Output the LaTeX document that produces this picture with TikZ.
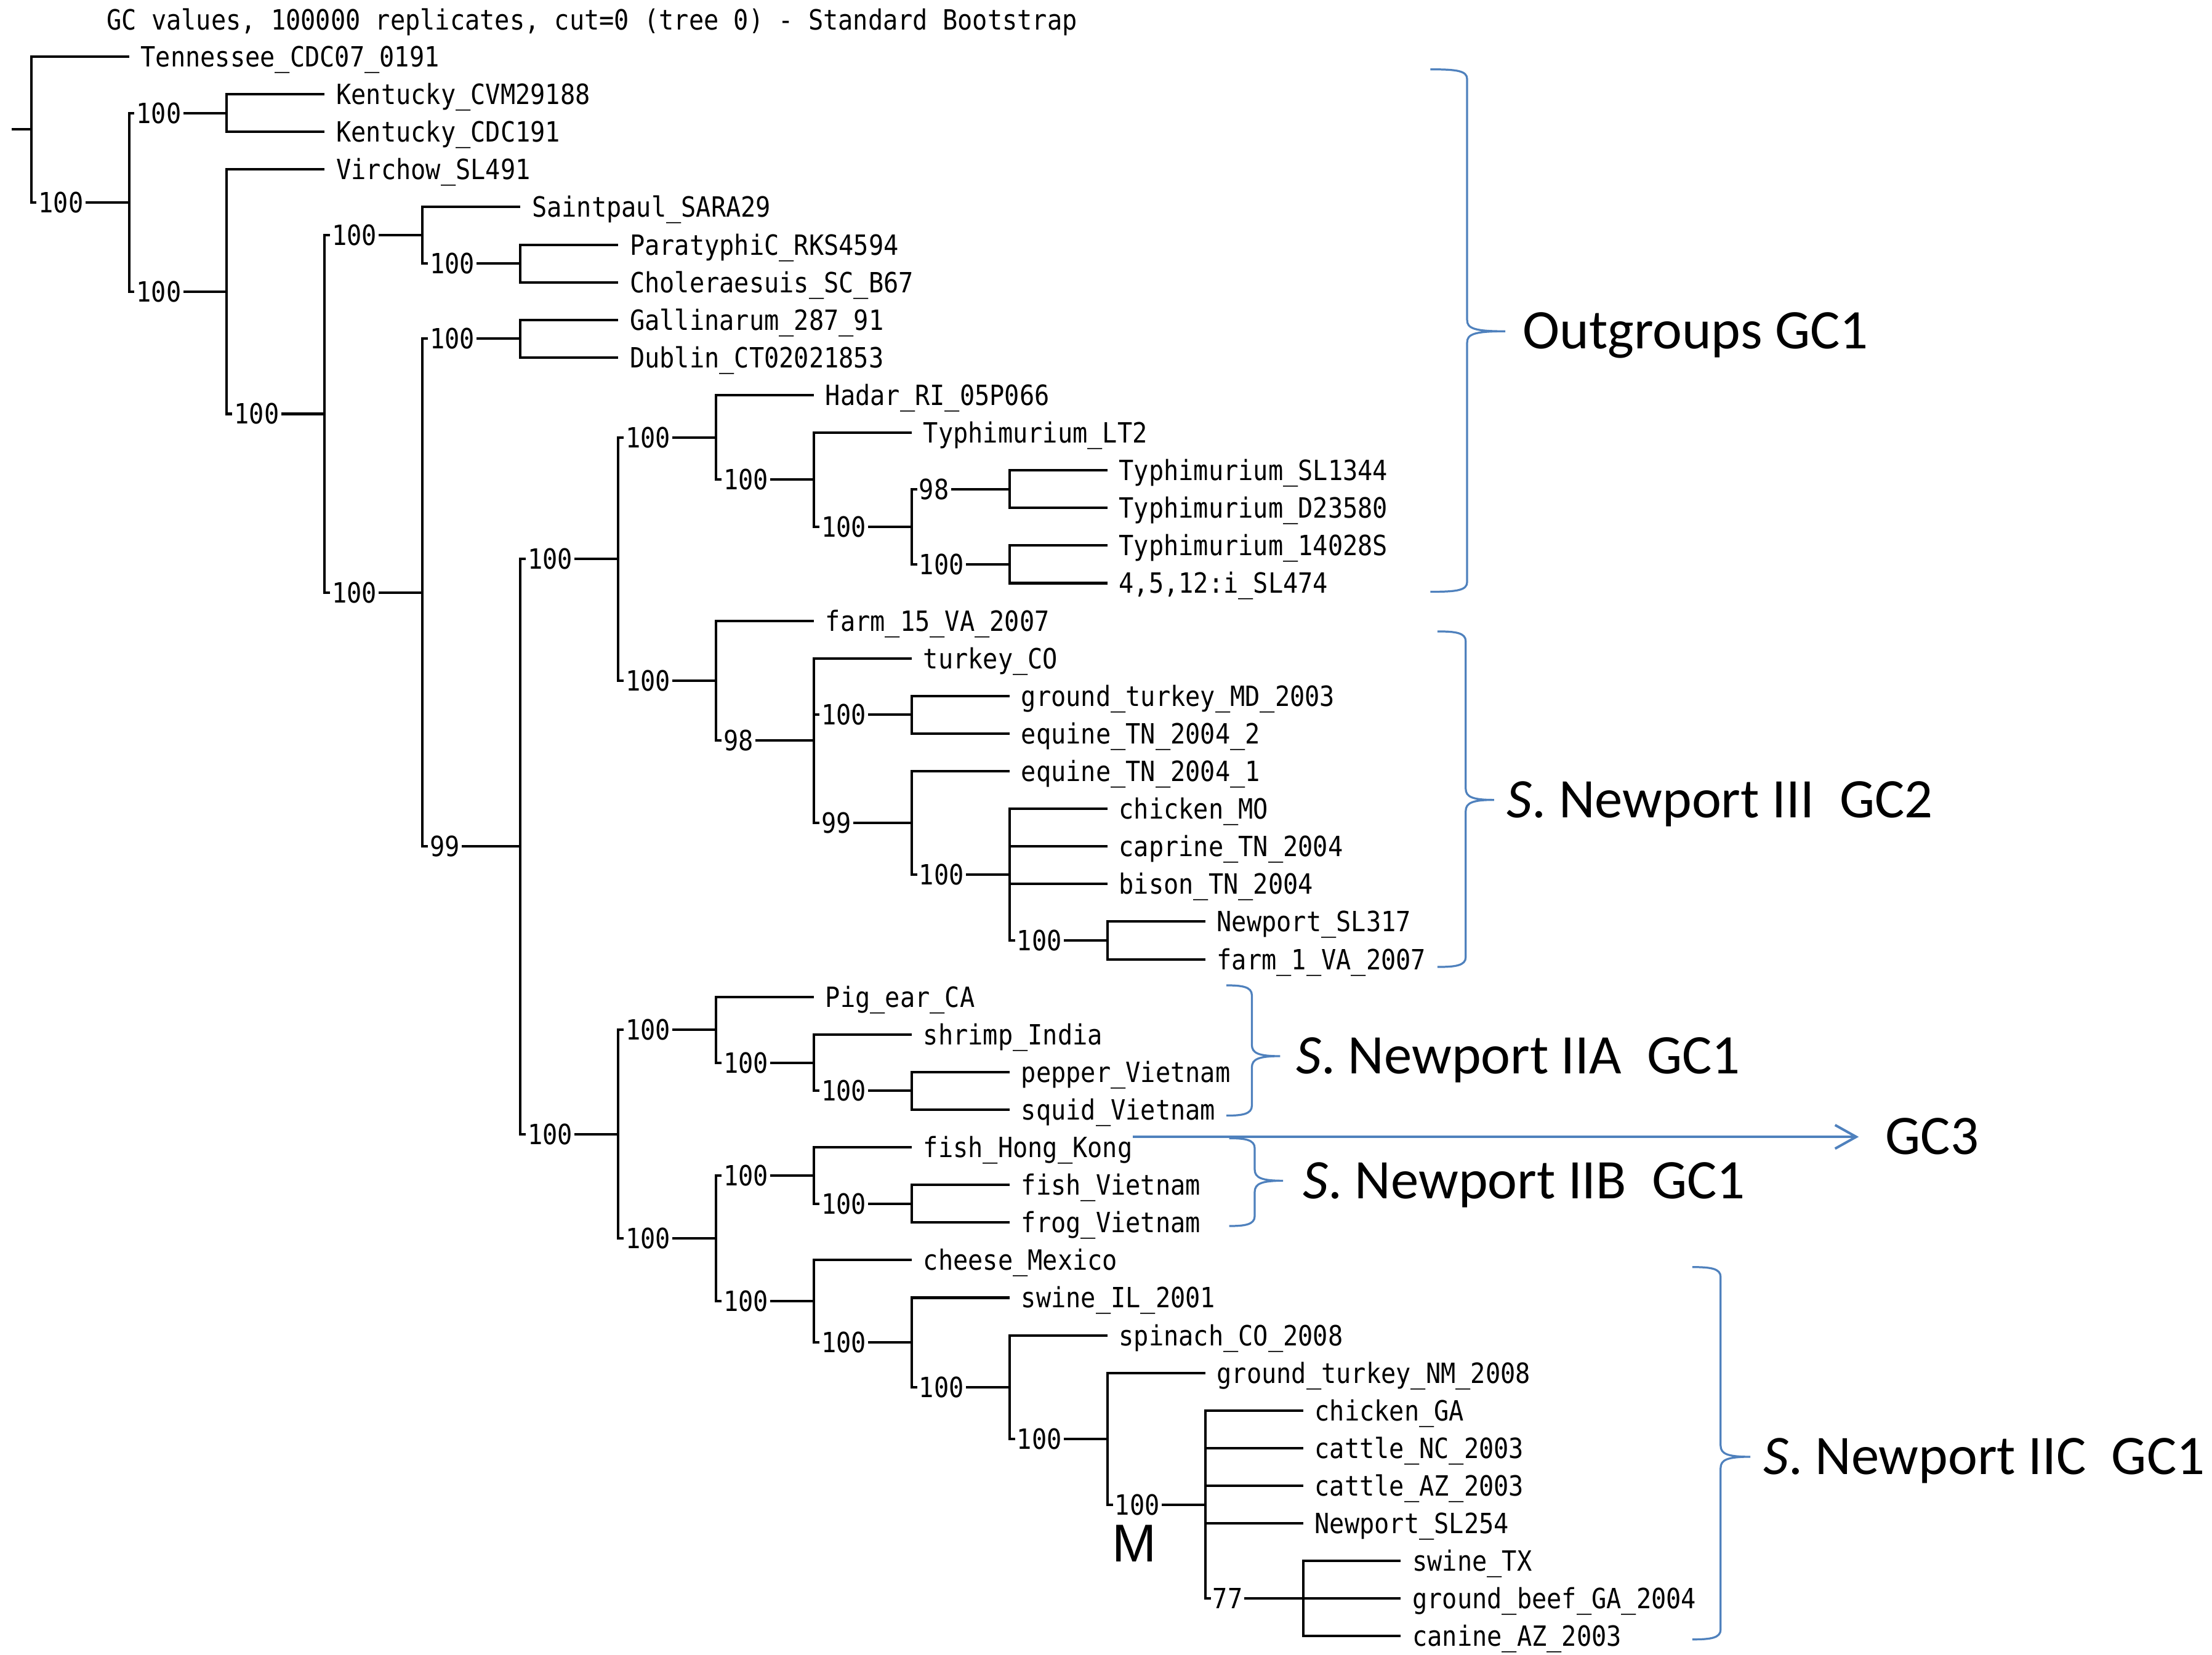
\documentclass[tikz,border=0pt]{standalone}
\usepackage{fontspec}
\usepackage{xcolor}
\usepackage{tikz}
\usetikzlibrary{positioning, arrows.meta}

\newfontfamily\treefont[FakeStretch=0.89]{DejaVu Sans Mono}
\newfontfamily\groupfont{Carlito}
\newfontfamily\markfont{Liberation Sans}
\definecolor{gcblue}{RGB}{79,129,189}

\begin{document}
\begin{tikzpicture}[
  x=0.02cm, y=-0.02cm,
  leaf/.style={anchor=west, inner xsep=4.5pt, inner ysep=0pt, font=\treefont\fontsize{11.2pt}{13pt}\selectfont, text height=8.16pt, text depth=0pt},
  boot/.style={anchor=west, xshift=2pt, fill=white, inner xsep=0.8pt, inner ysep=0.6pt, font=\treefont\fontsize{11.2pt}{13pt}\selectfont, text height=8.16pt, text depth=0pt},
  title/.style={anchor=west, inner sep=0pt, font=\treefont\fontsize{11.2pt}{13pt}\selectfont, text height=8.16pt, text depth=0pt},
  branch/.style={line width=1pt},
  group/.style={anchor=west, inner sep=0pt, font=\groupfont\fontsize{22.45pt}{27pt}\selectfont, text height=14.2pt, text depth=0pt},
  gcbrace/.style={draw=gcblue, line width=0.8pt},
  gcarrow/.style={draw=gcblue, line width=1pt, -{Straight Barb[length=8.5pt, width=9.5pt]}},
  marker/.style={inner sep=0pt, font=\markfont\fontsize{21.4pt}{25pt}\selectfont}
]
\useasboundingbox (0,0) rectangle (1562,1168.6);

% Title
\node[title] (caption) at (75,14) {GC values, 100000 replicates, cut=0 (tree 0) - Standard Bootstrap};

\begin{scope}[shift={(22,40)}, x=1.382cm, y=-0.5314cm]
% Leaves
\node[leaf] (Ten) at (1,0) {Tennessee\_CDC07\_0191};
\node[leaf] (KyCVM) at (3,1) {Kentucky\_CVM29188};
\node[leaf] (KyCDC) at (3,2) {Kentucky\_CDC191};
\node[leaf] (Vir) at (3,3) {Virchow\_SL491};
\node[leaf] (Stp) at (5,4) {Saintpaul\_SARA29};
\node[leaf] (PtC) at (6,5) {ParatyphiC\_RKS4594};
\node[leaf] (Chs) at (6,6) {Choleraesuis\_SC\_B67};
\node[leaf] (Gal) at (6,7) {Gallinarum\_287\_91};
\node[leaf] (Dub) at (6,8) {Dublin\_CT02021853};
\node[leaf] (Had) at (8,9) {Hadar\_RI\_05P066};
\node[leaf] (TyLT) at (9,10) {Typhimurium\_LT2};
\node[leaf] (TySL) at (11,11) {Typhimurium\_SL1344};
\node[leaf] (TyD) at (11,12) {Typhimurium\_D23580};
\node[leaf] (TyAt) at (11,13) {Typhimurium\_14028S};
\node[leaf] (Mono) at (11,14) {4,5,12:i\_SL474};
\node[leaf] (farmXV) at (8,15) {farm\_15\_VA\_2007};
\node[leaf] (turCO) at (9,16) {turkey\_CO};
\node[leaf] (gtMD) at (10,17) {ground\_turkey\_MD\_2003};
\node[leaf] (eqTwo) at (10,18) {equine\_TN\_2004\_2};
\node[leaf] (eqOne) at (10,19) {equine\_TN\_2004\_1};
\node[leaf] (chMO) at (11,20) {chicken\_MO};
\node[leaf] (capTN) at (11,21) {caprine\_TN\_2004};
\node[leaf] (bisTN) at (11,22) {bison\_TN\_2004};
\node[leaf] (NpSLiii) at (12,23) {Newport\_SL317};
\node[leaf] (farmI) at (12,24) {farm\_1\_VA\_2007};
\node[leaf] (pig) at (8,25) {Pig\_ear\_CA};
\node[leaf] (shrimp) at (9,26) {shrimp\_India};
\node[leaf] (pepper) at (10,27) {pepper\_Vietnam};
\node[leaf] (squid) at (10,28) {squid\_Vietnam};
\node[leaf] (fishHK) at (9,29) {fish\_Hong\_Kong};
\node[leaf] (fishVN) at (10,30) {fish\_Vietnam};
\node[leaf] (frog) at (10,31) {frog\_Vietnam};
\node[leaf] (cheese) at (9,32) {cheese\_Mexico};
\node[leaf] (swIL) at (10,33) {swine\_IL\_2001};
\node[leaf] (spin) at (11,34) {spinach\_CO\_2008};
\node[leaf] (gtNM) at (12,35) {ground\_turkey\_NM\_2008};
\node[leaf] (chGA) at (13,36) {chicken\_GA};
\node[leaf] (catNC) at (13,37) {cattle\_NC\_2003};
\node[leaf] (catAZ) at (13,38) {cattle\_AZ\_2003};
\node[leaf] (NpSLii) at (13,39) {Newport\_SL254};
\node[leaf] (swTX) at (14,40) {swine\_TX};
\node[leaf] (gbGA) at (14,41) {ground\_beef\_GA\_2004};
\node[leaf] (canAZ) at (14,42) {canine\_AZ\_2003};

% Inner nodes
\coordinate (stub) at (-0.2,1.938);
\coordinate (root) at (0,1.938);
\coordinate (nA) at (1,3.875);
\coordinate (nKy) at (2,1.5);
\coordinate (nB) at (2,6.25);
\coordinate (nC) at (3,9.5);
\coordinate (nD) at (4,4.75);
\coordinate (nPC) at (5,5.5);
\coordinate (nE) at (4,14.252);
\coordinate (nGD) at (5,7.5);
\coordinate (nG) at (5,21.004);
\coordinate (nH) at (6,13.359);
\coordinate (nTy) at (7,10.125);
\coordinate (nTyB) at (8,11.25);
\coordinate (nTyC) at (9,12.5);
\coordinate (nTyD) at (10,11.5);
\coordinate (nTyE) at (10,13.5);
\coordinate (nIII) at (7,16.594);
\coordinate (nIIIa) at (8,18.188);
\coordinate (nIIIb) at (9,17.5);
\coordinate (nIIIc) at (9,20.375);
\coordinate (nIIId) at (10,21.75);
\coordinate (nIIIe) at (11,23.5);
\coordinate (nI) at (6,28.648);
\coordinate (nIIA) at (7,25.875);
\coordinate (nIIAb) at (8,26.75);
\coordinate (nIIAc) at (9,27.5);
\coordinate (nIIBC) at (7,31.422);
\coordinate (nIIB) at (8,29.75);
\coordinate (nIIBb) at (9,30.5);
\coordinate (nIIC) at (8,33.094);
\coordinate (nIICb) at (9,34.188);
\coordinate (nIICc) at (10,35.375);
\coordinate (nIICd) at (11,36.75);
\coordinate (nM) at (12,38.5);
\coordinate (nS) at (13,41);

% Branches
\draw[branch] (stub) -- (root);
\draw[branch] (root) |- (Ten) (root) |- (nA);
\draw[branch] (nA) |- (nKy) (nA) |- (nB);
\draw[branch] (nKy) |- (KyCVM) (nKy) |- (KyCDC);
\draw[branch] (nB) |- (Vir) (nB) |- (nC);
\draw[branch] (nC) |- (nD) (nC) |- (nE);
\draw[branch] (nD) |- (Stp) (nD) |- (nPC);
\draw[branch] (nPC) |- (PtC) (nPC) |- (Chs);
\draw[branch] (nE) |- (nGD) (nE) |- (nG);
\draw[branch] (nGD) |- (Gal) (nGD) |- (Dub);
\draw[branch] (nG) |- (nH) (nG) |- (nI);
\draw[branch] (nH) |- (nTy) (nH) |- (nIII);
\draw[branch] (nTy) |- (Had) (nTy) |- (nTyB);
\draw[branch] (nTyB) |- (TyLT) (nTyB) |- (nTyC);
\draw[branch] (nTyC) |- (nTyD) (nTyC) |- (nTyE);
\draw[branch] (nTyD) |- (TySL) (nTyD) |- (TyD);
\draw[branch] (nTyE) |- (TyAt) (nTyE) |- (Mono);
\draw[branch] (nIII) |- (farmXV) (nIII) |- (nIIIa);
\draw[branch] (nIIIa) |- (turCO) (nIIIa) |- (nIIIb) (nIIIa) |- (nIIIc);
\draw[branch] (nIIIb) |- (gtMD) (nIIIb) |- (eqTwo);
\draw[branch] (nIIIc) |- (eqOne) (nIIIc) |- (nIIId);
\draw[branch] (nIIId) |- (chMO) (nIIId) |- (capTN) (nIIId) |- (bisTN) (nIIId) |- (nIIIe);
\draw[branch] (nIIIe) |- (NpSLiii) (nIIIe) |- (farmI);
\draw[branch] (nI) |- (nIIA) (nI) |- (nIIBC);
\draw[branch] (nIIA) |- (pig) (nIIA) |- (nIIAb);
\draw[branch] (nIIAb) |- (shrimp) (nIIAb) |- (nIIAc);
\draw[branch] (nIIAc) |- (pepper) (nIIAc) |- (squid);
\draw[branch] (nIIBC) |- (nIIB) (nIIBC) |- (nIIC);
\draw[branch] (nIIB) |- (fishHK) (nIIB) |- (nIIBb);
\draw[branch] (nIIBb) |- (fishVN) (nIIBb) |- (frog);
\draw[branch] (nIIC) |- (cheese) (nIIC) |- (nIICb);
\draw[branch] (nIICb) |- (swIL) (nIICb) |- (nIICc);
\draw[branch] (nIICc) |- (spin) (nIICc) |- (nIICd);
\draw[branch] (nIICd) |- (gtNM) (nIICd) |- (nM);
\draw[branch] (nM) |- (chGA) (nM) |- (catNC) (nM) |- (catAZ) (nM) |- (NpSLii) (nM) |- (nS);
\draw[branch] (nS) |- (swTX) (nS) |- (gbGA) (nS) |- (canAZ);

% Bootstrap values
\node[boot] (bA) at (root |- nA) {100};
\node[boot] (bKy) at (nA |- nKy) {100};
\node[boot] (bB) at (nA |- nB) {100};
\node[boot] (bC) at (nB |- nC) {100};
\node[boot] (bD) at (nC |- nD) {100};
\node[boot] (bPC) at (nD |- nPC) {100};
\node[boot] (bE) at (nC |- nE) {100};
\node[boot] (bGD) at (nE |- nGD) {100};
\node[boot] (bG) at (nE |- nG) {99};
\node[boot] (bH) at (nG |- nH) {100};
\node[boot] (bTy) at (nH |- nTy) {100};
\node[boot] (bTyB) at (nTy |- nTyB) {100};
\node[boot] (bTyC) at (nTyB |- nTyC) {100};
\node[boot] (bTyD) at (nTyC |- nTyD) {98};
\node[boot] (bTyE) at (nTyC |- nTyE) {100};
\node[boot] (bIII) at (nH |- nIII) {100};
\node[boot] (bIIIa) at (nIII |- nIIIa) {98};
\node[boot] (bIIIb) at (nIIIa |- nIIIb) {100};
\node[boot] (bIIIc) at (nIIIa |- nIIIc) {99};
\node[boot] (bIIId) at (nIIIc |- nIIId) {100};
\node[boot] (bIIIe) at (nIIId |- nIIIe) {100};
\node[boot] (bI) at (nG |- nI) {100};
\node[boot] (bIIA) at (nI |- nIIA) {100};
\node[boot] (bIIAb) at (nIIA |- nIIAb) {100};
\node[boot] (bIIAc) at (nIIAb |- nIIAc) {100};
\node[boot] (bIIBC) at (nI |- nIIBC) {100};
\node[boot] (bIIB) at (nIIBC |- nIIB) {100};
\node[boot] (bIIBb) at (nIIB |- nIIBb) {100};
\node[boot] (bIIC) at (nIIBC |- nIIC) {100};
\node[boot] (bIICb) at (nIIC |- nIICb) {100};
\node[boot] (bIICc) at (nIICb |- nIICc) {100};
\node[boot] (bIICd) at (nIICc |- nIICd) {100};
\node[boot] (bM) at (nIICd |- nM) {100};
\node[boot] (bS) at (nM |- nS) {77};
\end{scope}

\node[marker] (markM) at (801,1090) {M};

% Group braces
\draw[gcbrace] (1010,49) .. controls (1029,49) and (1036,50) .. (1036,56) -- (1036,226)
  .. controls (1036,232) and (1041,234) .. (1063,234) coordinate (tipOut)
  .. controls (1041,234) and (1036,236) .. (1036,242) -- (1036,411)
  .. controls (1036,417) and (1029,418) .. (1010,418);
\draw[gcbrace] (1015,446) .. controls (1028,446) and (1035,447) .. (1035,453) -- (1035,557)
  .. controls (1035,563) and (1040,565) .. (1055,565) coordinate (tipIII)
  .. controls (1040,565) and (1035,567) .. (1035,573) -- (1035,676)
  .. controls (1035,682) and (1028,683) .. (1015,683);
\draw[gcbrace] (866,696) .. controls (877,696) and (884,697) .. (884,703) -- (884,738)
  .. controls (884,744) and (889,746) .. (904,746) coordinate (tipIIA)
  .. controls (889,746) and (884,748) .. (884,754) -- (884,781)
  .. controls (884,787) and (877,788) .. (866,788);
\draw[gcbrace] (868,804) .. controls (879,804) and (886,805) .. (886,811) -- (886,826)
  .. controls (886,832) and (891,834) .. (906,834) coordinate (tipIIB)
  .. controls (891,834) and (886,836) .. (886,842) -- (886,859)
  .. controls (886,865) and (879,866) .. (868,866);
\draw[gcbrace] (1195,895) .. controls (1208,895) and (1215,896) .. (1215,902) -- (1215,1021)
  .. controls (1215,1027) and (1220,1029) .. (1236,1029) coordinate (tipIIC)
  .. controls (1220,1029) and (1215,1031) .. (1215,1037) -- (1215,1151)
  .. controls (1215,1157) and (1208,1158) .. (1195,1158);

% Group labels
\node[group, right=6.8pt of tipOut] (Outgroups) {Outgroups GC1};
\node[group, right=5pt of tipIII] (NewportIII) {\textit{S}. Newport III~~GC2};
\node[group, right=6.2pt of tipIIA] (NewportIIA) {\textit{S}. Newport IIA~~GC1};
\node[group, right=7.8pt of tipIIB] (NewportIIB) {\textit{S}. Newport IIB~~GC1};
\node[group, right=5pt of tipIIC] (NewportIIC) {\textit{S}. Newport IIC~~GC1};

% GC3 arrow
\coordinate (gcThree) at (800,803);
\node[group] (GC3) at (1331,803) {GC3};
\draw[gcarrow, shorten >=10.5pt] (gcThree) -- (GC3);

\end{tikzpicture}
\end{document}
